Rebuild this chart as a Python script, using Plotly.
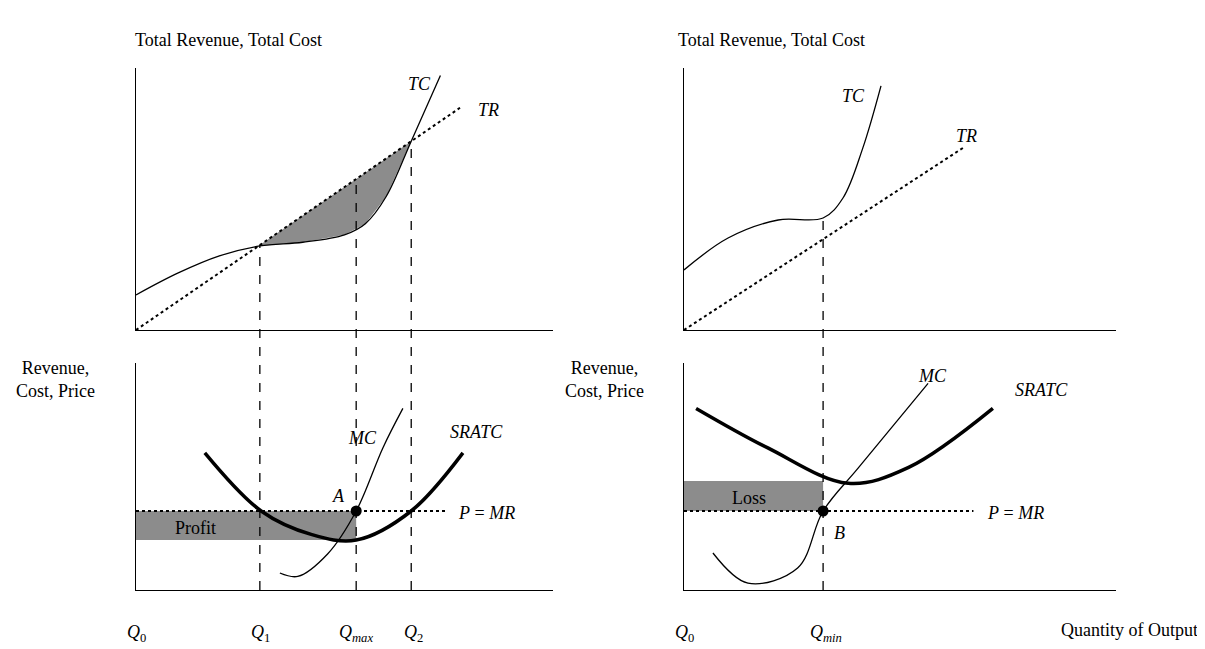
import plotly.graph_objects as go

# ---- data (quantity units 0..10, value units 0..10) ----
Q1, QMAX, Q2, QMIN = 2.97, 5.28, 6.6, 3.22
# left top
tr_l_x = [0, 7.77]; tr_l_y = [0, 8.99]
tc_l_x = [0, 1, 2, 2.97, 4, 5, 5.5, 6.0, 6.6, 7.3]
tc_l_y = [1.42, 2.3, 3.0, 3.4, 3.55, 3.85, 4.3, 5.4, 7.64, 10.3]
# left bottom
p_l = 3.48; p_l_end = 7.48
atc_l_min = 2.2
sratc_l_x = [1.65, 3.0, 4.2, 5.28, 6.6, 7.84]
sratc_l_y = [6.04, 3.48, 2.45, 2.2, 3.48, 6.04]
mc_l_x = [3.45, 3.88, 4.6, 5.28, 5.92, 6.4]
mc_l_y = [0.75, 0.6, 1.6, 3.48, 6.26, 8.0]
# right top
tr_r_x = [0, 6.46]; tr_r_y = [0, 7.37]
tc_r_x = [0, 1.02, 2.18, 3.22, 3.68, 4.14, 4.56]
tc_r_y = [2.43, 3.72, 4.45, 4.53, 5.34, 7.37, 9.88]
# right bottom
p_r = 3.48; p_r_end = 6.7
loss_top = 4.8
sratc_r_x = [0.28, 1.94, 3.8, 5.2, 7.15]
sratc_r_y = [8.0, 6.26, 4.7, 5.4, 8.0]
mc_r_x = [0.67, 1.48, 2.63, 3.22, 4.03, 5.65]
mc_r_y = [1.63, 0.3, 0.97, 3.48, 5.37, 9.1]

W, H = 1205, 649
FONT = "Liberation Serif"
TOP_RANGE = 10.6
top_dom = [1-322/H, 1-60/H]
bot_dom = [1-582/H, 1-355/H]
left_dom = [128/W, 545/W]
right_dom = [676/W, 1108/W]

fig = go.Figure()
def line(x, y, ax, dash="solid", width=1.3, spline=True):
    fig.add_trace(go.Scatter(x=x, y=y, mode="lines", xaxis="x"+ax, yaxis="y"+ax,
        line=dict(color="black", width=width, dash=dash, shape="spline" if spline else "linear"),
        hoverinfo="skip"))

def poly(x, y, ax):
    fig.add_trace(go.Scatter(x=x, y=y, mode="lines", xaxis="x"+ax, yaxis="y"+ax, fill="toself",
        fillcolor="#8c8c8c", line=dict(width=0), hoverinfo="skip"))

# left top shaded profit area
sx = [x for x in tc_l_x if Q1 <= x <= Q2]; sy = [tc_l_y[tc_l_x.index(x)] for x in sx]
poly(sx + [Q2, Q1], sy + [Q2*tr_l_y[1]/tr_l_x[1], Q1*tr_l_y[1]/tr_l_x[1]], "")
line(tc_l_x, tc_l_y, "")
line(tr_l_x, tr_l_y, "", dash="dot", width=2, spline=False)
# left bottom
poly([0, QMAX, QMAX, 0], [atc_l_min, atc_l_min, p_l, p_l], "2")
line([0, p_l_end], [p_l, p_l], "2", dash="dot", width=1.8, spline=False)
line(sratc_l_x, sratc_l_y, "2", width=3.5)
line(mc_l_x, mc_l_y, "2")
fig.add_trace(go.Scatter(x=[QMAX], y=[p_l], mode="markers", xaxis="x2", yaxis="y2",
    marker=dict(color="black", size=11), hoverinfo="skip"))
# right top
line(tc_r_x, tc_r_y, "3")
line(tr_r_x, tr_r_y, "3", dash="dot", width=2, spline=False)
# right bottom
poly([0, QMIN, QMIN, 0], [p_r, p_r, loss_top, loss_top], "4")
line([0, p_r_end], [p_r, p_r], "4", dash="dot", width=1.8, spline=False)
line(sratc_r_x, sratc_r_y, "4", width=3.5)
line(mc_r_x, mc_r_y, "4")
fig.add_trace(go.Scatter(x=[QMIN], y=[p_r], mode="markers", xaxis="x4", yaxis="y4",
    marker=dict(color="black", size=11), hoverinfo="skip"))

# dashed verticals (paper y)
def paper_top(y):
    return top_dom[0] + y/TOP_RANGE*(top_dom[1]-top_dom[0])
slope_l = tr_l_y[1]/tr_l_x[1]
for q in [Q1, QMAX, Q2]:
    fig.add_shape(type="line", xref="x2", yref="paper", x0=q, x1=q, y0=bot_dom[0],
                  y1=paper_top(q*slope_l), line=dict(color="black", width=1.3, dash="dash"))
fig.add_shape(type="line", xref="x4", yref="paper", x0=QMIN, x1=QMIN, y0=bot_dom[0],
              y1=paper_top(4.53), line=dict(color="black", width=1.3, dash="dash"))

ax = dict(showline=True, linecolor="black", linewidth=1.3, showgrid=False, zeroline=False,
          showticklabels=False, ticks="", fixedrange=True)
fig.update_layout(
    width=W, height=H, margin=dict(l=0, r=0, t=0, b=0), showlegend=False,
    plot_bgcolor="white", paper_bgcolor="white",
    font=dict(family=FONT, size=18, color="black"),
    xaxis=dict(ax, domain=left_dom, range=[0, 10], anchor="y"),
    yaxis=dict(ax, domain=top_dom, range=[0, TOP_RANGE], anchor="x"),
    xaxis2=dict(ax, domain=left_dom, range=[0, 10], anchor="y2"),
    yaxis2=dict(ax, domain=bot_dom, range=[0, 10], anchor="x2"),
    xaxis3=dict(ax, domain=right_dom, range=[0, 10], anchor="y3"),
    yaxis3=dict(ax, domain=top_dom, range=[0, TOP_RANGE], anchor="x3"),
    xaxis4=dict(ax, domain=right_dom, range=[0, 10], anchor="y4"),
    yaxis4=dict(ax, domain=bot_dom, range=[0, 10], anchor="x4"),
)

def txt(x, y, s, xa="left", size=18):
    fig.add_annotation(x=x/W, y=1-y/H, xref="paper", yref="paper", text=s, showarrow=False,
                       xanchor=xa, yanchor="middle", font=dict(size=size))
txt(125, 32, "Total Revenue, Total Cost")
txt(668, 32, "Total Revenue, Total Cost")
txt(6, 372, "Revenue,<br>Cost, Price")
txt(555, 372, "Revenue,<br>Cost, Price")
txt(398, 76, "<i>TC</i>"); txt(468, 102, "<i>TR</i>")
txt(832, 88, "<i>TC</i>"); txt(946, 128, "<i>TR</i>")
txt(338, 430, "<i>MC</i>"); txt(440, 424, "<i>SRATC</i>")
txt(322, 488, "<i>A</i>"); txt(165, 520, "Profit"); txt(448, 505, "<i>P</i> = <i>MR</i>")
txt(908, 368, "<i>MC</i>"); txt(1005, 382, "<i>SRATC</i>")
txt(722, 490, "Loss"); txt(824, 525, "<i>B</i>"); txt(977, 505, "<i>P</i> = <i>MR</i>")
for x, s in [(128, "<i>Q</i><sub>0</sub>"), (252, "<i>Q</i><sub>1</sub>"), (348, "<i>Q</i><sub><i>max</i></sub>"),
             (405, "<i>Q</i><sub>2</sub>"), (676, "<i>Q</i><sub>0</sub>"), (818, "<i>Q</i><sub><i>min</i></sub>")]:
    txt(x, 625, s, xa="center")
txt(1192, 622, "Quantity of Output", xa="right")

fig.write_html("out.html")
